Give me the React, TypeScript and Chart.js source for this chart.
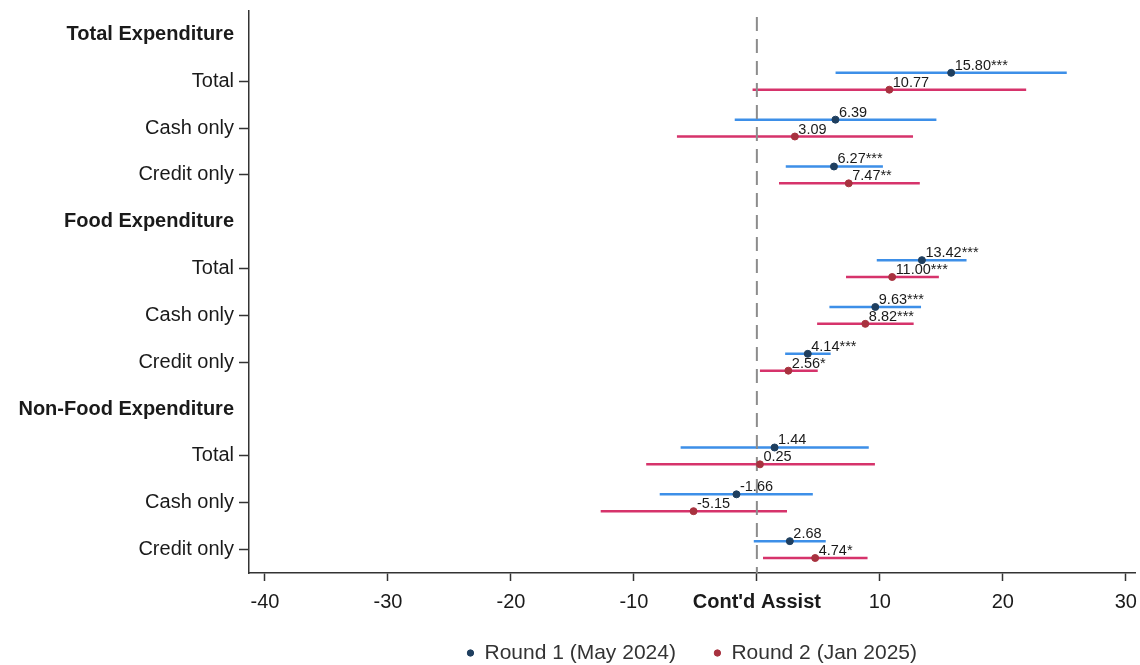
import React, { useEffect, useRef } from "react";
import { Chart, registerables } from "chart.js";
Chart.register(...registerables);

const rowLabels = [
  "Total Expenditure", "Total", "Cash only", "Credit only",
  "Food Expenditure", "Total", "Cash only", "Credit only",
  "Non-Food Expenditure", "Total", "Cash only", "Credit only",
];
const headerRows = [0, 4, 8];
const estimateRows = [1, 2, 3, 5, 6, 7, 9, 10, 11];

const seriesNames = ["Round 1 (May 2024)", "Round 2 (Jan 2025)"];

const r1Est = [15.8, 6.39, 6.27, 13.42, 9.63, 4.14, 1.44, -1.66, 2.68];
const r1Lo = [6.4, -1.8, 2.35, 9.75, 5.9, 2.3, -6.2, -7.9, -0.25];
const r1Hi = [25.2, 14.6, 10.25, 17.05, 13.35, 6.0, 9.1, 4.55, 5.6];
const r1Stars = ["***", "", "***", "***", "***", "***", "", "", ""];

const r2Est = [10.77, 3.09, 7.47, 11.0, 8.82, 2.56, 0.25, -5.15, 4.74];
const r2Lo = [-0.35, -6.5, 1.8, 7.25, 4.9, 0.25, -9.0, -12.7, 0.5];
const r2Hi = [21.9, 12.7, 13.25, 14.8, 12.75, 4.95, 9.6, 2.45, 9.0];
const r2Stars = ["", "", "**", "***", "***", "*", "", "", "*"];

const xTicks = [-40, -30, -20, -10, 0, 10, 20, 30];
const zeroLabel = "Cont'd Assist";

const FONT = '"Liberation Sans", Arial, sans-serif';
const OFFSET = 0.18;
const LEGEND_PAD = 38;
const LEGEND_FONT = 21;

function ciData(lo: number[], hi: number[], shift: number) {
  const out: any[] = [];
  estimateRows.forEach((r, i) => {
    out.push({ x: lo[i], y: r + shift });
    out.push({ x: hi[i], y: r + shift });
    out.push({ x: hi[i], y: null });
  });
  return out;
}
function ptData(est: number[], shift: number) {
  return estimateRows.map((r, i) => ({ x: est[i], y: r + shift }));
}

const valueLabels = {
  id: "valueLabels",
  afterDatasetsDraw(chart: any) {
    const c = chart.ctx;
    chart.data.datasets.forEach((ds: any, i: number) => {
      if (!ds.starLabels) return;
      const meta = chart.getDatasetMeta(i);
      meta.data.forEach((el: any, j: number) => {
        const txt = ds.data[j].x.toFixed(2) + (ds.starLabels[j] || "");
        c.save();
        c.fillStyle = "#1a1a1a";
        c.textAlign = "left";
        c.textBaseline = "alphabetic";
        c.font = `14.5px ${FONT}`;
        c.fillText(txt, el.x + 3.5, el.y - 3);
        c.restore();
      });
    });
  },
};

const legendPlace = {
  id: "legendPlace",
  afterLayout(chart: any) {
    const lg = chart.legend;
    const ca = chart.chartArea;
    if (!lg || !ca) return;
    lg.left = ca.left;
    lg.right = ca.right;
    lg.width = ca.right - ca.left;
    const h = lg.height;
    lg.top = 653 - LEGEND_PAD - LEGEND_FONT / 2;
    lg.bottom = lg.top + h;
  },
};

export default function App() {
  const ref = useRef<HTMLCanvasElement>(null);
  useEffect(() => {
    const chart = new Chart(ref.current as HTMLCanvasElement, {
      type: "scatter",
      data: {
        datasets: [
          {
            label: seriesNames[0],
            data: ptData(r1Est, -OFFSET),
            backgroundColor: "#1f3f5f",
            borderColor: "#1f3f5f",
            pointRadius: 3.5,
            pointStyle: "circle",
            order: 0,
            starLabels: r1Stars,
          } as any,
          {
            label: seriesNames[1],
            data: ptData(r2Est, OFFSET),
            backgroundColor: "#a8323f",
            borderColor: "#a8323f",
            pointRadius: 3.5,
            pointStyle: "circle",
            order: 0,
            starLabels: r2Stars,
          } as any,
          {
            label: "zero",
            data: [{ x: 0, y: -0.5 }, { x: 0, y: 11.5 }],
            showLine: true,
            borderColor: "#8c8c8c",
            borderWidth: 2,
            borderDash: [14, 8],
            borderDashOffset: 16,
            pointRadius: 0,
            order: 1,
          },
          {
            label: "ci1",
            data: ciData(r1Lo, r1Hi, -OFFSET),
            showLine: true,
            spanGaps: false,
            borderColor: "#3d8fe8",
            borderWidth: 2.5,
            pointRadius: 0,
            order: 2,
          },
          {
            label: "ci2",
            data: ciData(r2Lo, r2Hi, OFFSET),
            showLine: true,
            spanGaps: false,
            borderColor: "#d6336b",
            borderWidth: 2.5,
            pointRadius: 0,
            order: 2,
          },
        ],
      },
      options: {
        animation: false,
        responsive: true,
        maintainAspectRatio: false,
        layout: { padding: { left: 0, right: 0, top: 11, bottom: -23 } },
        plugins: {
          title: { display: false },
          tooltip: { enabled: false },
          legend: {
            display: true,
            position: "bottom",
            labels: {
              filter: (item: any) => seriesNames.includes(item.text),
              usePointStyle: true,
              boxWidth: 7,
              boxHeight: 4.5,
              padding: LEGEND_PAD,
              color: "#333",
              font: { size: LEGEND_FONT, family: FONT },
            },
          },
        },
        scales: {
          x: {
            type: "linear",
            min: -41.3,
            max: 30.75,
            afterBuildTicks: (scale: any) => {
              scale.ticks = xTicks.map((v) => ({ value: v }));
            },
            afterFit: (scale: any) => {
              scale.height = 46;
              scale.paddingLeft = 0;
              scale.paddingRight = 0;
            },
            ticks: {
              padding: 9,
              maxRotation: 0,
              minRotation: 0,
              autoSkip: false,
              color: "#1a1a1a",
              callback: (v: any) => (v === 0 ? zeroLabel : String(v)),
              font: (ctx: any) => ({
                size: 20,
                family: FONT,
                weight: ctx.tick && ctx.tick.value === 0 ? "bold" : "normal",
              }),
            },
            grid: {
              display: true,
              drawOnChartArea: false,
              drawTicks: true,
              tickLength: 8,
              tickColor: "#333",
              tickWidth: 1.5,
            },
            border: { display: true, color: "#333", width: 1.5 },
          },
          y: {
            type: "linear",
            reverse: true,
            min: -0.5,
            max: 11.5,
            afterBuildTicks: (scale: any) => {
              scale.ticks = rowLabels.map((_, i) => ({ value: i }));
            },
            afterFit: (scale: any) => {
              scale.width = 249;
              scale.paddingTop = 0;
              scale.paddingBottom = 0;
            },
            ticks: {
              padding: 5,
              color: "#1a1a1a",
              autoSkip: false,
              callback: (v: any) => rowLabels[v] ?? "",
              font: (ctx: any) => ({
                size: 20,
                family: FONT,
                weight:
                  ctx.tick && headerRows.includes(ctx.tick.value) ? "bold" : "normal",
              }),
            },
            grid: {
              display: true,
              drawOnChartArea: false,
              drawTicks: true,
              tickLength: 10,
              tickWidth: 1.5,
              tickColor: (ctx: any) =>
                ctx.tick && headerRows.includes(ctx.tick.value) ? "rgba(0,0,0,0)" : "#333",
            },
            border: { display: true, color: "#333", width: 1.5 },
          },
        },
      } as any,
      plugins: [valueLabels, legendPlace],
    });
    return () => chart.destroy();
  }, []);
  return (
    <div
      style={{
        position: "fixed",
        left: 0,
        top: 0,
        width: 1140,
        height: 665,
        background: "#fff",
      }}
    >
      <canvas ref={ref} />
    </div>
  );
}
